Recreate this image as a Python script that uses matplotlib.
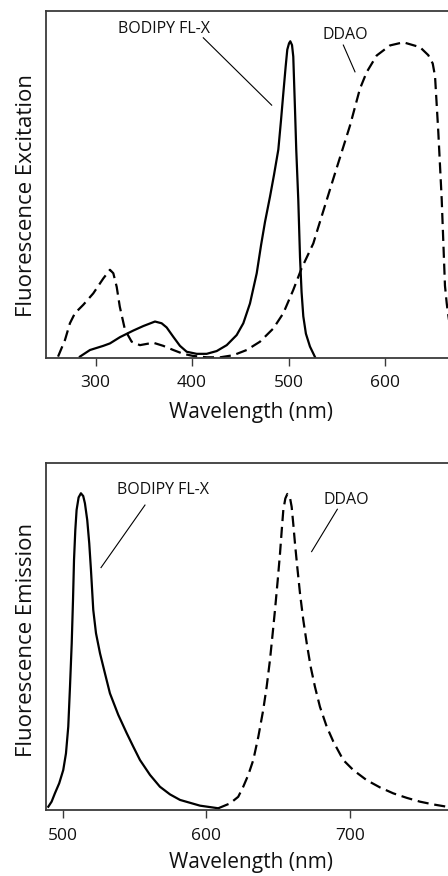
import matplotlib
matplotlib.use("Agg")
import matplotlib.pyplot as plt

plt.rcParams['font.family'] = ['Open Sans', 'DejaVu Sans']

# ---- Excitation (top panel) ----
exc_bodipy_wl = [283.7, 294.1, 307.9, 314.8, 325.2, 339.0, 349.4, 361.5, 368.4, 373.6, 380.5, 387.4,
                 394.4, 404.7, 415.1, 425.5, 435.9, 446.2, 453.1, 460.0, 467.0, 471.5, 475.6, 480.8,
                 484.9, 489.4, 492.2, 494.6, 497.0, 498.7, 500.5, 501.8, 503.6, 504.9, 506.7, 508.0,
                 510.1, 511.9, 513.5, 515.3, 518.0, 522.2, 527.4]
exc_bodipy_val = [0.004, 0.023, 0.035, 0.042, 0.060, 0.079, 0.092, 0.105, 0.100, 0.088, 0.061, 0.035,
                  0.018, 0.012, 0.012, 0.020, 0.037, 0.066, 0.100, 0.157, 0.244, 0.325, 0.392, 0.465,
                  0.527, 0.60, 0.685, 0.763, 0.839, 0.888, 0.906, 0.912, 0.901, 0.868, 0.715, 0.599,
                  0.455, 0.29, 0.19, 0.12, 0.07, 0.033, 0.003]

exc_ddao_wl = [261.0, 268.2, 273.3, 278.5, 287.1, 297.5, 307.9, 314.8, 318.3, 321.8, 325.0, 330.4,
               337.3, 345.9, 359.7, 370.1, 380.5, 390.8, 401.0, 415.1, 429.0, 442.7, 456.6, 470.4,
               484.2, 494.6, 504.9, 513.5, 525.7, 529.2, 546.4, 563.7, 574.0, 581.0, 591.4, 605.2,
               619.0, 636.3, 644.9, 649.5, 651.9, 655.3, 658.8, 662.2, 664.0, 665.0, 668.0, 672.0]
exc_ddao_val = [0.004, 0.052, 0.100, 0.129, 0.153, 0.186, 0.229, 0.254, 0.244, 0.205, 0.148, 0.081,
                0.047, 0.037, 0.044, 0.035, 0.023, 0.012, 0.006, 0.002, 0.002, 0.008, 0.023, 0.047,
                0.085, 0.129, 0.196, 0.258, 0.330, 0.362, 0.516, 0.669, 0.775, 0.823, 0.871, 0.900,
                0.909, 0.895, 0.872, 0.848, 0.811, 0.65, 0.458, 0.208, 0.158, 0.135, 0.08, 0.03]

# ---- Emission (bottom panel) ----
em_bodipy_wl = [490.0, 492.3, 494.6, 497.6, 500.4, 502.3, 503.9, 505.1, 506.3, 507.2, 507.9, 508.8,
                509.7, 511.1, 512.7, 514.3, 515.5, 517.1, 518.5, 519.7, 521.3, 523.2, 526.0, 529.4,
                532.9, 538.7, 544.6, 549.2, 553.8, 560.8, 567.7, 574.7, 581.7, 595.6, 608.3]
em_bodipy_val = [0.0095, 0.024, 0.048, 0.077, 0.115, 0.163, 0.24, 0.355, 0.48, 0.605, 0.72, 0.806,
                 0.864, 0.90, 0.912, 0.904, 0.883, 0.835, 0.768, 0.691, 0.576, 0.509, 0.451, 0.394,
                 0.336, 0.274, 0.221, 0.182, 0.144, 0.101, 0.067, 0.045, 0.029, 0.0125, 0.005]

em_ddao_wl = [608.3, 616.5, 622.2, 625.7, 629.2, 632.7, 636.2, 639.6, 642.0, 644.3, 646.2, 647.8,
              649.7, 651.3, 652.5, 653.6, 655.0, 656.4, 658.2, 659.4, 660.5, 661.7, 663.3, 665.2,
              667.5, 669.9, 672.6, 675.6, 679.1, 683.8, 688.4, 695.3, 702.3, 711.6, 720.9, 730.1,
              739.5, 748.7, 758.0, 767.3, 775.0]
em_ddao_val = [0.005, 0.019, 0.038, 0.067, 0.101, 0.144, 0.211, 0.288, 0.355, 0.432, 0.509, 0.576,
               0.662, 0.739, 0.806, 0.864, 0.897, 0.91, 0.90, 0.873, 0.825, 0.768, 0.70, 0.624,
               0.547, 0.48, 0.413, 0.355, 0.297, 0.24, 0.197, 0.144, 0.115, 0.086, 0.065, 0.048,
               0.035, 0.024, 0.016, 0.0095, 0.006]

exc_ticks = [300, 400, 500, 600]
em_ticks = [500, 600, 700]

fig = plt.figure(figsize=(4.48, 8.76), dpi=100)
ax1 = fig.add_axes([46/448, 1 - 358/876, 409/448, 347.3/876])
ax2 = fig.add_axes([46/448, 1 - 810/876, 409/448, 347.3/876])

spine_col = '#3a3a3a'
dash = (0, (5.0, 2.6))
lw = 1.6
txt_col = '#111111'

for ax in (ax1, ax2):
    for s in ax.spines.values():
        s.set_color(spine_col)
        s.set_linewidth(1.3)
    ax.set_yticks([])
    ax.tick_params(axis='x', direction='out', length=5.5, width=1.0, color=spine_col,
                   labelsize=12.5, labelcolor=txt_col)
    ax.set_ylim(0, 1)

# top panel
ax1.plot(exc_bodipy_wl, exc_bodipy_val, color='black', lw=lw, solid_joinstyle='round')
ax1.plot(exc_ddao_wl, exc_ddao_val, color='black', lw=lw, linestyle=dash)
ax1.set_xlim(248.5, 672.6)
ax1.set_xticks(exc_ticks)
ax1.set_xticklabels([str(t) for t in exc_ticks])
ax1.tick_params(axis='x', pad=6.5)
ax1.set_xlabel('Wavelength (nm)', fontsize=15, color=txt_col)
ax1.xaxis.set_label_coords(0.5, -0.127)
ax1.set_ylabel('Fluorescence Excitation', fontsize=16, color=txt_col)
ax1.yaxis.set_label_coords(-0.021, 0.4665)
ax1.text(370.9, 0.936, 'BODIPY FL-X', fontsize=11.5, ha='center', va='baseline', color=txt_col)
ax1.plot([411.6, 482.5], [0.922, 0.728], color='black', lw=0.8)
ax1.text(558.5, 0.918, 'DDAO', fontsize=11.5, ha='center', va='baseline', color=txt_col)
ax1.plot([556.8, 568.9], [0.901, 0.824], color='black', lw=0.8)

# bottom panel
ax2.plot(em_bodipy_wl, em_bodipy_val, color='black', lw=lw, solid_joinstyle='round')
ax2.plot(em_ddao_wl, em_ddao_val, color='black', lw=lw, linestyle=dash)
ax2.set_xlim(488.4, 773.1)
ax2.set_xticks(em_ticks)
ax2.set_xticklabels([str(t) for t in em_ticks])
ax2.tick_params(axis='x', pad=7.5)
ax2.set_xlabel('Wavelength (nm)', fontsize=15, color=txt_col)
ax2.xaxis.set_label_coords(0.5, -0.121)
ax2.set_ylabel('Fluorescence Emission', fontsize=16, color=txt_col)
ax2.yaxis.set_label_coords(-0.021, 0.4895)
ax2.text(569.8, 0.910, 'BODIPY FL-X', fontsize=11.5, ha='center', va='baseline', color=txt_col)
ax2.plot([557.3, 526.7], [0.878, 0.698], color='black', lw=0.8)
ax2.text(697.7, 0.881, 'DDAO', fontsize=11.5, ha='center', va='baseline', color=txt_col)
ax2.plot([691.2, 673.3], [0.866, 0.744], color='black', lw=0.8)

fig.savefig('out.png', dpi=100)
